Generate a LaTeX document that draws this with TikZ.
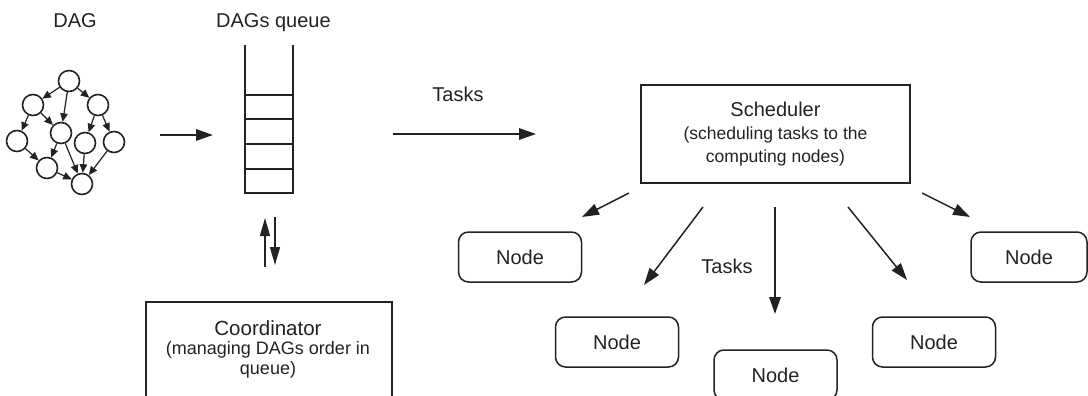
\documentclass[tikz,border=0pt]{standalone}
\usepackage{fontspec}
\setmainfont{Liberation Sans}
\usetikzlibrary{arrows.meta}
\definecolor{ink}{HTML}{222222}
\begin{document}
\begin{tikzpicture}[x=1pt,y=-1pt,
  lbl/.style={font=\fontsize{20}{24}\selectfont, text=ink, inner sep=0pt},
  dagnode/.style={circle, draw=ink, line width=1.6pt, minimum size=21pt, inner sep=0pt},
  dagarr/.style={draw=ink, line width=1.2pt, -{Triangle[length=8.5pt,width=7.5pt]}},
  arr/.style={draw=ink, line width=1.5pt, -{Triangle[length=17pt,width=11.5pt]}},
  compnode/.style={draw=ink, line width=1.5pt, rounded corners=10pt, minimum width=123pt,
    minimum height=50pt, inner sep=0pt, font=\fontsize{20}{24}\selectfont, text=ink},
  bigbox/.style={draw=ink, line width=2.2pt, inner sep=0pt},
  qline/.style={draw=ink, line width=1.6pt}]
\useasboundingbox (0,0) rectangle (1088,396);
\clip (0,0) rectangle (1088,396);

% labels
\node[lbl, anchor=base] (daglbl) at (75,28) {DAG};
\node[lbl, anchor=base west] (qlbl) at (216,28) {DAGs queue};
\node[lbl, anchor=base] (tasks1) at (458,102) {Tasks};
\node[lbl, anchor=base] (tasks2) at (727,273) {Tasks};

% DAG
\node[dagnode] (n1) at (69,81) {};
\node[dagnode] (n2) at (33,105) {};
\node[dagnode] (n3) at (98,105) {};
\node[dagnode] (n4) at (17,141) {};
\node[dagnode] (n5) at (61,133) {};
\node[dagnode] (n6) at (85,143) {};
\node[dagnode] (n7) at (114,142) {};
\node[dagnode] (n8) at (47,168) {};
\node[dagnode] (n9) at (82,184) {};
\foreach \a/\b in {n1/n2,n1/n5,n1/n3,n2/n4,n2/n5,n3/n6,n3/n7,n4/n8,n5/n8,n5/n9,n6/n9,n7/n9,n8/n9}
  \draw[dagarr] (\a) -- (\b);

% queue
\draw[qline] (245,45) -- (245,193) -- (293,193) -- (293,45);
\foreach \y in {95,119,144,169} \draw[qline] (245,\y) -- (293,\y);

% DAG -> queue
\coordinate (dagout) at (160,135);
\coordinate (qin) at (213,135);
\draw[arr] (dagout) -- (qin);

% queue <-> coordinator
\coordinate (upS) at (265,267); \coordinate (upE) at (265,218);
\coordinate (dnS) at (275,217); \coordinate (dnE) at (275,265);
\draw[arr, -{Triangle[length=18pt,width=10pt]}] (upS) -- (upE);
\draw[arr, -{Triangle[length=18pt,width=10pt]}] (dnS) -- (dnE);

% coordinator
\node[bigbox, minimum width=246pt, minimum height=130pt, anchor=north west] (coord) at (145,301) {};
\node[text=ink, inner sep=0pt, align=center, font=\fontsize{18}{19.5}\selectfont] (coordtxt) at (268,349)
  {{\fontsize{20.5}{19.5}\selectfont Coordinator}\\(managing DAGs order in\\queue)};

% tasks arrow
\coordinate (tS) at (393,134); \coordinate (tE) at (536,134);
\draw[arr] (tS) -- (tE);

% scheduler
\node[bigbox, minimum width=269pt, minimum height=98pt, align=center, text=ink,
  font=\fontsize{17.5}{23}\selectfont] (sched) at (775.5,134)
  {{\fontsize{20}{23}\selectfont Scheduler}\\(scheduling tasks to the\\computing nodes)};

% computing nodes
\node[compnode] (c1) at (520,257) {Node};
\node[compnode] (c2) at (617,342) {Node};
\node[compnode] (c3) at (775.5,375) {Node};
\node[compnode] (c4) at (934,342) {Node};
\node[compnode, minimum width=116pt] (c5) at (1029,257) {Node};

% scheduler -> nodes
\coordinate (s1) at (629,193); \coordinate (e1) at (582,217);
\coordinate (s2) at (703,207); \coordinate (e2) at (644,285);
\coordinate (s3) at (775,207); \coordinate (e3) at (775,314);
\coordinate (s4) at (848,207); \coordinate (e4) at (907,280);
\coordinate (s5) at (922,193); \coordinate (e5) at (970,217);
\foreach \i in {1,...,5} \draw[arr] (s\i) -- (e\i);
\end{tikzpicture}
\end{document}
